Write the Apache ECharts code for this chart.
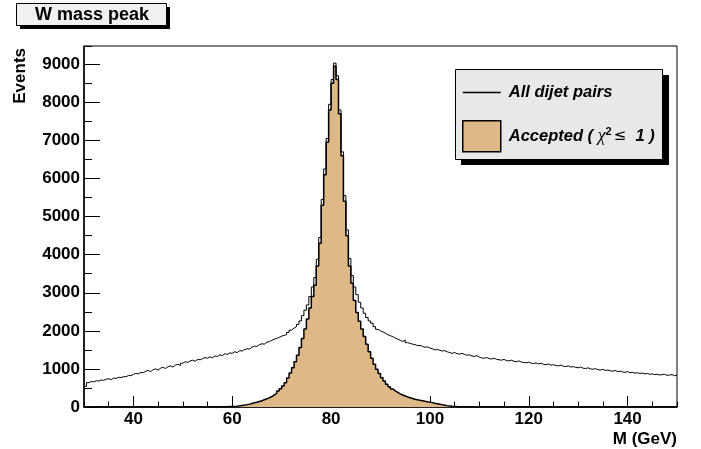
<!DOCTYPE html>
<html><head><meta charset="utf-8">
<script src="https://cdn.jsdelivr.net/npm/echarts@6/dist/echarts.min.js"></script>
<style>html,body{margin:0;padding:0;background:#fff}#c{width:701px;height:449px}</style>
</head><body><div id="c"></div>
<script>
// ---- data ----
const xMin = 30, xMax = 150, binWidth = 0.5;
const yMax = 9480;
const xTickLabels = [40, 60, 80, 100, 120, 140];
const yTickLabels = [0, 1000, 2000, 3000, 4000, 5000, 6000, 7000, 8000, 9000];
const seriesNames = ['All dijet pairs', 'Accepted'];
const allDijet = [
 540,640,670,660,690,680,710,700,730,740,720,760,750,780,770,800,790,830,820,860,
 880,870,910,900,940,960,930,980,1000,970,1020,1040,1010,1060,1080,1050,1100,1120,1090,1150,
 1190,1170,1210,1230,1200,1250,1240,1270,1300,1280,1320,1290,1340,1330,1370,1350,1400,1380,1420,1410,
 1450,1430,1480,1470,1510,1530,1520,1570,1600,1590,1640,1660,1650,1700,1720,1750,1780,1800,1830,1860,
 1880,1900,1960,2020,2070,2110,2170,2260,2400,2540,2680,2900,3150,3400,3880,4450,5450,6250,7050,7950,
 8600,9030,8700,7800,6700,5550,4650,3900,3450,3150,2950,2750,2600,2460,2350,2260,2200,2110,2040,2000,
 1970,1940,1900,1870,1850,1810,1780,1750,1720,1760,1690,1670,1650,1640,1610,1620,1590,1570,1580,1550,
 1530,1500,1510,1490,1470,1480,1450,1430,1410,1430,1400,1390,1410,1380,1360,1370,1340,1330,1350,1310,
 1290,1280,1300,1270,1260,1280,1250,1240,1230,1250,1220,1210,1230,1200,1190,1210,1180,1170,1160,1180,
 1150,1140,1160,1130,1150,1120,1110,1130,1100,1110,1090,1080,1100,1070,1060,1080,1050,1060,1040,1030,
 1050,1020,1010,1030,1000,990,1010,980,970,990,960,970,950,940,960,930,940,920,910,930,
 900,910,890,900,880,890,870,880,860,870,850,860,840,850,860,830,840,850,820,840
];
const accepted = [
 0,0,0,0,0,0,0,0,0,0,0,0,0,0,0,0,0,0,0,0,
 0,0,0,0,0,0,0,0,0,0,0,0,0,0,0,0,0,0,0,0,
 0,0,0,0,0,0,0,0,0,0,0,0,0,0,2,3,5,7,10,12,
 15,22,30,40,50,62,75,90,110,125,145,165,190,215,240,275,315,360,420,480,
 550,640,760,890,1030,1190,1360,1560,1800,2050,2310,2600,2900,3200,3700,4300,5300,6100,6950,7800,
 8500,8950,8600,7700,6600,5400,4500,3700,3250,2800,2480,2250,2050,1850,1650,1450,1280,1120,990,880,
 770,680,600,535,475,425,385,345,315,290,265,245,225,205,190,175,165,150,140,128,
 115,100,88,75,60,48,36,28,20,15,11,8,6,4,3,2,2,1,0,0,
 0,0,0,0,0,0,0,0,0,0,0,0,0,0,0,0,0,0,0,0,
 0,0,0,0,0,0,0,0,0,0,0,0,0,0,0,0,0,0,0,0,
 0,0,0,0,0,0,0,0,0,0,0,0,0,0,0,0,0,0,0,0,
 0,0,0,0,0,0,0,0,0,0,0,0,0,0,0,0,0,0,0,0
];

// histogram -> step points at bin edges
function toSteps(vals) {
  const pts = vals.map((v, i) => [xMin + i * binWidth, v]);
  pts.push([xMin + vals.length * binWidth, vals[vals.length - 1]]);
  return pts;
}

const FONT = '"Liberation Sans", Arial, Helvetica, sans-serif';
const TAN = '#DEB887';
const plain = v => String(v);
const chart = echarts.init(document.getElementById('c'), null, {renderer: 'canvas'});
chart.setOption({
  animation: false,
  backgroundColor: '#ffffff',
  grid: {left: 84, right: 24, top: 46, bottom: 42, show: true, borderColor: '#000', borderWidth: 1, backgroundColor: 'transparent'},
  xAxis: [
    {type: 'value', min: xMin, max: xMax,
     axisLine: {show: true, lineStyle: {color: '#000', width: 1.5}},
     axisTick: {show: true, inside: true, length: 11, customValues: xTickLabels, lineStyle: {color: '#000', width: 1}},
     axisLabel: {customValues: xTickLabels, formatter: plain, color: '#000', fontFamily: FONT, fontWeight: 'bold', fontSize: 17, margin: 4},
     splitLine: {show: false}},
    {type: 'value', min: xMin, max: xMax, interval: 5, position: 'bottom',
     axisLine: {show: false},
     axisTick: {show: true, inside: true, length: 5.5, lineStyle: {color: '#000', width: 1}},
     axisLabel: {show: false}, splitLine: {show: false}}
  ],
  yAxis: [
    {type: 'value', min: 0, max: yMax,
     axisLine: {show: true, lineStyle: {color: '#000', width: 1.5}},
     axisTick: {show: true, inside: true, length: 16, customValues: yTickLabels, lineStyle: {color: '#000', width: 1}},
     axisLabel: {customValues: yTickLabels, formatter: plain, color: '#000', fontFamily: FONT, fontWeight: 'bold', fontSize: 17, margin: 4},
     splitLine: {show: false}},
    {type: 'value', min: 0, max: yMax, interval: 500, position: 'left',
     axisLine: {show: false},
     axisTick: {show: true, inside: true, length: 8, lineStyle: {color: '#000', width: 1}},
     axisLabel: {show: false}, splitLine: {show: false}}
  ],
  legend: {
    show: true, orient: 'vertical', left: 462, top: 84, z: 10,
    itemWidth: 38, itemHeight: 31, itemGap: 19, padding: 0, selectedMode: false,
    data: [
      {name: seriesNames[0], icon: 'path://M0,0 H76 V3 H0 Z', itemStyle: {color: '#000', borderWidth: 0}},
      {name: seriesNames[1], icon: 'rect', itemStyle: {color: TAN, borderColor: '#000', borderWidth: 1.5}}
    ],
    formatter: function (n) {
      return n === seriesNames[1]
        ? '{a|Accepted ( }{c|\u03C7}{s|2}{l|\u2264}{a|  1 )}'
        : '{a|All dijet pairs}';
    },
    textStyle: {
      padding: [0, 0, 0, 3],
      rich: {
        a: {fontFamily: FONT, fontSize: 16.5, fontWeight: 'bold', fontStyle: 'italic', color: '#000', lineHeight: 22},
        c: {fontFamily: '"Liberation Serif", "DejaVu Serif", serif', fontSize: 18, fontStyle: 'italic', color: '#000', lineHeight: 22},
        s: {fontFamily: FONT, fontSize: 11, fontWeight: 'bold', color: '#000', verticalAlign: 'top', padding: [1, 0, 0, 0]},
        l: {fontFamily: '"DejaVu Sans", sans-serif', fontSize: 15, color: '#000', lineHeight: 22, padding: [0, 0, 0, 2]}
      }
    }
  },
  graphic: [
    {type: 'rect', z: 5, shape: {x: 20, y: 7, width: 150, height: 22}, style: {fill: '#000'}},
    {type: 'rect', z: 6, shape: {x: 16.5, y: 3.5, width: 150, height: 22}, style: {fill: '#f0f0f0', stroke: '#000', lineWidth: 1}},
    {type: 'text', z: 7, x: 92, y: 15, style: {text: 'W mass peak', fill: '#000', font: 'bold 18px ' + FONT, align: 'center', verticalAlign: 'middle'}},
    {type: 'rect', z: 5, shape: {x: 461, y: 75, width: 208, height: 90}, style: {fill: '#000'}},
    {type: 'rect', z: 6, shape: {x: 455.5, y: 69.5, width: 207, height: 90}, style: {fill: '#e8e8e8', stroke: '#000', lineWidth: 1}},
    {type: 'text', z: 7, x: 20, y: 48, rotation: Math.PI / 2, style: {text: 'Events', fill: '#000', font: 'bold 17px ' + FONT, align: 'right', verticalAlign: 'middle'}},
    {type: 'text', z: 7, x: 677, y: 439, style: {text: 'M (GeV)', fill: '#000', font: 'bold 17px ' + FONT, align: 'right', verticalAlign: 'middle'}}
  ],
  series: [
    {name: seriesNames[1], type: 'line', step: 'end', xAxisIndex: 0, yAxisIndex: 0,
     data: toSteps(accepted), symbol: 'none', showSymbol: false, z: 2,
     lineStyle: {color: '#000', width: 1.5}, itemStyle: {color: TAN},
     areaStyle: {color: TAN, opacity: 1}},
    {name: seriesNames[0], type: 'line', step: 'end', xAxisIndex: 0, yAxisIndex: 0,
     data: toSteps(allDijet), symbol: 'none', showSymbol: false, z: 3,
     lineStyle: {color: '#000', width: 1}, itemStyle: {color: '#000'}}
  ]
});
</script></body></html>
